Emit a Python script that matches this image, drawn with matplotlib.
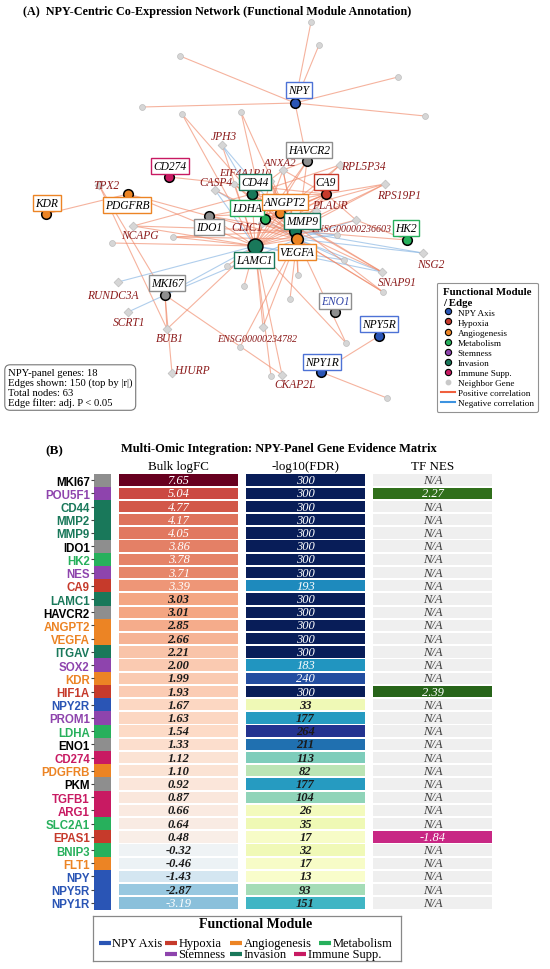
import numpy as np
import matplotlib
matplotlib.use("Agg")
import matplotlib.pyplot as plt
from matplotlib import colors as mcolors
from matplotlib.lines import Line2D

SERIF = "Liberation Serif"
SANS = "Liberation Sans"

######################### Data: evidence matrix #########################

genes = ["MKI67", "POU5F1", "CD44", "MMP2", "MMP9", "IDO1", "HK2", "NES", "CA9",
         "LAMC1", "HAVCR2", "ANGPT2", "VEGFA", "ITGAV", "SOX2", "KDR", "HIF1A",
         "NPY2R", "PROM1", "LDHA", "ENO1", "CD274", "PDGFRB", "PKM", "TGFB1",
         "ARG1", "SLC2A1", "EPAS1", "BNIP3", "FLT1", "NPY", "NPY5R", "NPY1R"]
gene_module = ["Other", "Stemness", "Invasion", "Invasion", "Invasion", "Other",
               "Metabolism", "Stemness", "Hypoxia", "Invasion", "Other",
               "Angiogenesis", "Angiogenesis", "Invasion", "Stemness",
               "Angiogenesis", "Hypoxia", "NPY Axis", "Stemness", "Metabolism",
               "Other", "Immune Supp.", "Angiogenesis", "Other", "Immune Supp.",
               "Immune Supp.", "Metabolism", "Hypoxia", "Metabolism",
               "Angiogenesis", "NPY Axis", "NPY Axis", "NPY Axis"]
logfc = [7.65, 5.04, 4.77, 4.17, 4.05, 3.86, 3.78, 3.71, 3.39, 3.03, 3.01, 2.85,
         2.66, 2.21, 2.00, 1.99, 1.93, 1.67, 1.63, 1.54, 1.33, 1.12, 1.10, 0.92,
         0.87, 0.66, 0.64, 0.48, -0.32, -0.46, -1.43, -2.87, -3.19]
neg_log_fdr = [300, 300, 300, 300, 300, 300, 300, 300, 193, 300, 300, 300, 300,
               300, 183, 240, 300, 33, 177, 264, 211, 113, 82, 177, 104, 26, 35,
               17, 32, 17, 13, 93, 151]
tf_nes = [np.nan, 2.27] + [np.nan] * 14 + [2.39] + [np.nan] * 10 + [-1.84] + [np.nan] * 5
fdr_text_white = [v == 300 or v in (193, 183, 240) for v in neg_log_fdr]

module_names = ["NPY Axis", "Hypoxia", "Angiogenesis", "Metabolism",
                "Stemness", "Invasion", "Immune Supp."]
module_colors = {"NPY Axis": "#2a55b5", "Hypoxia": "#c63a2b",
                 "Angiogenesis": "#ec8424", "Metabolism": "#27b05c",
                 "Stemness": "#8e44ad", "Invasion": "#19785a",
                 "Immune Supp.": "#c81a62", "Other": "#8e8e8e"}

######################### Data: network #########################

panel_genes = ["NPY", "HAVCR2", "CD274", "CD44", "CA9", "PDGFRB", "KDR", "LDHA",
               "ANGPT2", "IDO1", "MMP9", "VEGFA", "HK2", "LAMC1", "MKI67",
               "ENO1", "NPY5R", "NPY1R"]
panel_module = ["NPY Axis", "Other", "Immune Supp.", "Invasion", "Hypoxia",
                "Angiogenesis", "Angiogenesis", "Metabolism", "Angiogenesis",
                "Other", "Invasion", "Angiogenesis", "Metabolism", "Invasion",
                "Other", "Other", "NPY Axis", "NPY Axis"]
named_neighbors = ["JPH3", "ANXA2", "EIF4A1P10", "RPL5P34", "CASP4", "TPX2",
                   "RPS19P1", "PLAUR", "CLIC1", "ENSG00000236603", "NCAPG",
                   "NSG2", "SNAP91", "RUNDC3A", "SCRT1", "BUB1",
                   "ENSG00000234782", "HJURP", "CKAP2L"]
other_neighbors = ["g%d" % i for i in range(1, 23)]

# (gene, gene, sign of correlation)
edges = [
    ("NPY", "g1", 1), ("NPY", "g2", 1), ("NPY", "g3", 1), ("NPY", "g4", 1),
    ("NPY", "g5", 1), ("NPY", "g6", 1), ("NPY", "HAVCR2", 1),
    ("NPY5R", "NPY1R", 1), ("NPY1R", "g20", 1),
    ("KDR", "PDGFRB", 1), ("PDGFRB", "IDO1", 1), ("PDGFRB", "LAMC1", 1),
    ("TPX2", "MKI67", 1), ("TPX2", "BUB1", 1), ("CD274", "CA9", 1),
    ("NCAPG", "LAMC1", 1), ("NCAPG", "CD44", 1), ("NCAPG", "MMP9", 1),
    ("g11", "LAMC1", 1), ("g11", "VEGFA", 1), ("g11", "MMP9", 1), ("g10", "LAMC1", 1),
    ("RUNDC3A", "LAMC1", -1), ("MKI67", "LAMC1", -1), ("SCRT1", "MKI67", -1),
    ("MKI67", "VEGFA", -1),
    ("MKI67", "BUB1", 1), ("MKI67", "HJURP", 1), ("MKI67", "CKAP2L", 1),
    ("BUB1", "LAMC1", 1), ("LAMC1", "ENSG00000234782", 1), ("LAMC1", "g21", 1),
    ("LAMC1", "g13", 1), ("LAMC1", "g12", 1), ("VEGFA", "g22", 1),
    ("VEGFA", "g19", 1), ("LAMC1", "g18", 1), ("MMP9", "g14", 1),
    ("VEGFA", "g14", 1), ("HK2", "MMP9", 1), ("HK2", "ENSG00000236603", 1),
    ("NSG2", "VEGFA", -1), ("NSG2", "MMP9", -1), ("SNAP91", "VEGFA", -1),
    ("SNAP91", "LAMC1", -1), ("SNAP91", "ANGPT2", 1), ("SNAP91", "CD44", 1),
    ("g15", "VEGFA", -1), ("g15", "LAMC1", -1), ("g16", "MMP9", -1),
    ("g16", "VEGFA", -1), ("ENSG00000236603", "VEGFA", -1),
    ("ENSG00000236603", "CA9", 1), ("ENSG00000236603", "LAMC1", 1),
    ("g17", "VEGFA", 1), ("g17", "ANGPT2", 1),
    ("RPL5P34", "CD44", 1), ("RPL5P34", "ANGPT2", 1), ("RPL5P34", "LAMC1", 1),
    ("RPS19P1", "LAMC1", 1), ("RPS19P1", "MMP9", 1), ("RPS19P1", "ANGPT2", 1),
    ("RPS19P1", "CA9", 1), ("HAVCR2", "LAMC1", 1), ("HAVCR2", "VEGFA", 1),
    ("HAVCR2", "LDHA", 1), ("HAVCR2", "ANXA2", 1),
    ("JPH3", "LDHA", -1), ("JPH3", "MMP9", -1), ("JPH3", "LAMC1", 1),
    ("g7", "LAMC1", 1), ("g7", "CD44", 1), ("g8", "LDHA", 1), ("g8", "MMP9", 1),
    ("CASP4", "LAMC1", -1), ("CASP4", "VEGFA", -1), ("CASP4", "MMP9", 1),
    ("ANXA2", "LAMC1", 1), ("ANXA2", "CD44", 1), ("ANXA2", "MMP9", 1),
    ("ANXA2", "VEGFA", 1), ("ANXA2", "CA9", 1),
    ("EIF4A1P10", "LAMC1", 1), ("EIF4A1P10", "VEGFA", 1),
    ("EIF4A1P10", "ANGPT2", 1), ("EIF4A1P10", "MMP9", 1),
    ("CD44", "LAMC1", 1), ("CD44", "MMP9", 1), ("CD44", "VEGFA", 1),
    ("CD44", "ANGPT2", 1), ("CD44", "CA9", 1), ("CD44", "LDHA", 1),
    ("LDHA", "LAMC1", 1), ("LDHA", "MMP9", 1), ("LDHA", "VEGFA", 1),
    ("LDHA", "CA9", 1), ("LDHA", "ANGPT2", 1),
    ("ANGPT2", "LAMC1", 1), ("ANGPT2", "MMP9", 1), ("ANGPT2", "VEGFA", 1),
    ("ANGPT2", "CA9", 1), ("MMP9", "LAMC1", 1), ("MMP9", "VEGFA", 1),
    ("MMP9", "CA9", 1), ("VEGFA", "LAMC1", 1), ("VEGFA", "CA9", 1),
    ("LAMC1", "CA9", 1), ("CLIC1", "LAMC1", 1), ("CLIC1", "MMP9", 1),
    ("CLIC1", "VEGFA", 1), ("CLIC1", "CA9", 1), ("PLAUR", "LAMC1", 1),
    ("PLAUR", "MMP9", 1), ("PLAUR", "VEGFA", 1), ("PLAUR", "CD44", 1),
    ("PLAUR", "LDHA", 1), ("IDO1", "LAMC1", 1), ("IDO1", "VEGFA", 1),
    ("IDO1", "MMP9", 1), ("IDO1", "CA9", 1), ("IDO1", "ANGPT2", 1),
    ("g9", "LAMC1", 1), ("g9", "MMP9", 1), ("g9", "VEGFA", 1),
    ("VEGFA", "g18", 1), ("MMP9", "SNAP91", 1), ("VEGFA", "g17", 1),
    ("ENSG00000234782", "VEGFA", 1), ("CKAP2L", "LAMC1", 1),
]

stats_text = ("NPY-panel genes: 18\nEdges shown: 150 (top by |r|)\n"
              "Total nodes: 63\nEdge filter: adj. P < 0.05")

######################### Layout (pixel space of panel A) #########################

pos = {
    "NPY": (295, 104), "HAVCR2": (307, 162), "CD274": (169, 178), "CD44": (252, 195),
    "CA9": (326, 195), "PDGFRB": (128, 195), "KDR": (46, 215), "LDHA": (265, 220),
    "ANGPT2": (280, 214), "IDO1": (209, 217), "MMP9": (295, 232), "VEGFA": (297, 240),
    "HK2": (407, 241), "LAMC1": (255, 247), "MKI67": (165, 296), "ENO1": (335, 313),
    "NPY5R": (379, 337), "NPY1R": (321, 373),
    "JPH3": (222, 146), "ANXA2": (283, 171), "EIF4A1P10": (270, 182),
    "RPL5P34": (340, 166), "CASP4": (215, 191), "TPX2": (99, 186),
    "RPS19P1": (385, 185), "PLAUR": (316, 212), "CLIC1": (262, 224),
    "ENSG00000236603": (356, 221), "NCAPG": (133, 227), "NSG2": (423, 254),
    "SNAP91": (382, 273), "RUNDC3A": (118, 283), "SCRT1": (128, 313),
    "BUB1": (167, 330), "ENSG00000234782": (263, 328), "HJURP": (172, 374),
    "CKAP2L": (282, 376),
    "g1": (311, 23), "g2": (319, 46), "g3": (180, 57), "g4": (398, 78),
    "g5": (142, 108), "g6": (425, 117), "g7": (182, 115), "g8": (241, 113),
    "g9": (234, 185), "g10": (112, 244), "g11": (173, 238), "g12": (227, 267),
    "g13": (244, 287), "g14": (298, 276), "g15": (344, 261), "g16": (337, 236),
    "g17": (383, 293), "g18": (346, 344), "g19": (290, 300), "g20": (387, 399),
    "g21": (271, 377), "g22": (240, 348),
}
panel_label_off = {
    "NPY": (4, -13), "HAVCR2": (2, -11), "CD274": (1, -11), "CD44": (3, -12),
    "CA9": (0, -12), "PDGFRB": (-1, 11), "KDR": (1, -11), "LDHA": (-18, -11),
    "ANGPT2": (5, -11), "IDO1": (0, 11), "MMP9": (7, -10), "VEGFA": (0, 13),
    "HK2": (-1, -12), "LAMC1": (-1, 14), "MKI67": (2, -12), "ENO1": (0, -11),
    "NPY5R": (0, -12), "NPY1R": (1, -10),
}
neighbor_label_off = {
    "JPH3": (2, -9), "ANXA2": (-3, -8), "EIF4A1P10": (-25, -9),
    "RPL5P34": (23, 1), "CASP4": (1, -8), "TPX2": (7, 0), "RPS19P1": (14, 11),
    "PLAUR": (14, -6), "CLIC1": (-15, 4), "ENSG00000236603": (-5, 8),
    "NCAPG": (7, 9), "NSG2": (8, 11), "SNAP91": (15, 10), "RUNDC3A": (-5, 13),
    "SCRT1": (1, 10), "BUB1": (3, 9), "ENSG00000234782": (-6, 11),
    "HJURP": (20, -3), "CKAP2L": (13, 9),
}
node_size = {"LAMC1": 115, "MMP9": 70, "VEGFA": 70, "CD44": 55}

######################### Figure #########################

fig = plt.figure(figsize=(5.5, 9.7), dpi=100)
W, H = 550.0, 970.0

fig.text(23 / W, 1 - 12 / H,
         "(A)  NPY-Centric Co-Expression Network (Functional Module Annotation)",
         family=SERIF, weight="bold", fontsize=8.7, va="center", ha="left")

ax = fig.add_axes([0, 1 - 410 / H, 1, 395 / H])
ax.set_xlim(0, 550)
ax.set_ylim(410, 15)
ax.axis("off")

for a, b, sgn in edges:
    (x1, y1), (x2, y2) = pos[a], pos[b]
    ax.plot([x1, x2], [y1, y2], color="#f08a6a" if sgn > 0 else "#86b4e2",
            lw=0.8, alpha=0.65, zorder=1)

gx = [pos[g][0] for g in other_neighbors]
gy = [pos[g][1] for g in other_neighbors]
ax.scatter(gx, gy, s=18, c="#d6d6d6", edgecolors="#bdbdbd", linewidths=0.5, zorder=2)
nx = [pos[g][0] for g in named_neighbors]
ny = [pos[g][1] for g in named_neighbors]
ax.scatter(nx, ny, s=20, marker="D", c="#d6d6d6", edgecolors="#bdbdbd",
           linewidths=0.5, zorder=2)

for g, m in zip(panel_genes, panel_module):
    x, y = pos[g]
    ax.scatter([x], [y], s=node_size.get(g, 48), c=module_colors[m],
               edgecolors="black", linewidths=1.1, zorder=4)

for g in named_neighbors:
    x, y = pos[g]
    dx, dy = neighbor_label_off[g]
    fs = 7.2 if g.startswith("ENSG") else 8.3
    if g in ("EIF4A1P10", "ANXA2"):
        fs = 7.8
    ax.text(x + dx, y + dy, g, ha="center", va="center", family=SERIF,
            style="italic", fontsize=fs, color="#8c1c1c", zorder=5)

for g, m in zip(panel_genes, panel_module):
    x, y = pos[g]
    dx, dy = panel_label_off[g]
    ec = module_colors[m] if m != "NPY Axis" else "#4d72d6"
    ax.text(x + dx, y + dy, g, ha="center", va="center", family=SERIF,
            style="italic", fontsize=8.3, color="#3346a8" if g == "ENO1" else "black",
            zorder=6,
            bbox=dict(boxstyle="square,pad=0.18", fc="white", ec=ec, lw=1.0))

# network legend
handles = [Line2D([], [], ls="", marker="o", ms=4.5, mfc=module_colors[m],
                  mec="black", mew=0.8, label=m) for m in module_names]
handles.append(Line2D([], [], ls="", marker="o", ms=3.2, mfc="#c8c8c8",
                      mec="#c8c8c8", label="Neighbor Gene"))
handles.append(Line2D([], [], color="#f0603e", lw=1.5, label="Positive correlation"))
handles.append(Line2D([], [], color="#3d93e0", lw=1.5, label="Negative correlation"))
leg = fig.legend(handles=handles, loc="upper left",
                 bbox_to_anchor=(432 / W, 1 - 279 / H),
                 title="Functional Module\n/ Edge",
                 title_fontproperties={"family": SERIF, "weight": "bold", "size": 7.8},
                 prop={"family": SERIF, "size": 6.6}, labelspacing=0.18,
                 handlelength=1.5, handletextpad=0.3, borderpad=0.5,
                 frameon=True, fancybox=True, edgecolor="#777777",
                 alignment="center")
leg.get_frame().set_linewidth(0.8)

fig.text(8 / W, 1 - 369 / H, stats_text, family=SERIF, fontsize=7.7,
         va="top", ha="left", linespacing=1.08,
         bbox=dict(boxstyle="round,pad=0.3,rounding_size=0.5", fc="white",
                   ec="#777777", lw=0.8))

######################### Panel B #########################

fig.text(54 / W, 1 - 451 / H, "(B)", family=SERIF, weight="bold", fontsize=9.5,
         ha="center", va="center")
fig.text(279 / W, 1 - 449 / H,
         "Multi-Omic Integration: NPY-Panel Gene Evidence Matrix",
         family=SERIF, weight="bold", fontsize=9.0, ha="center", va="center")

n = len(genes)
yy = np.arange(n)
top_px, bot_px = 474.5, 910.5
axh = fig.add_axes([94 / W, 1 - bot_px / H, (492 - 94) / W, (bot_px - top_px) / H])
axh.set_xlim(94, 492)
axh.set_ylim(n - 0.5, -0.5)

cols = [(119, 119), (246, 119), (373, 119)]
cell_h = 0.86

axh.barh(yy, 17, left=94, height=1.0,
         color=[module_colors[m] for m in gene_module])

lfc_cmap = plt.get_cmap("RdBu_r")
lfc_norm = mcolors.Normalize(-max(logfc), max(logfc))
axh.barh(yy, cols[0][1], left=cols[0][0], height=cell_h,
         color=lfc_cmap(lfc_norm(logfc)))

fdr_cmap = plt.get_cmap("YlGnBu")
fdr_norm = mcolors.Normalize(0, 300)
axh.barh(yy, cols[1][1], left=cols[1][0], height=cell_h,
         color=fdr_cmap(fdr_norm(neg_log_fdr)))

nes_cmap = plt.get_cmap("PiYG")
nes_max = np.nanmax(np.abs(tf_nes))
nes_norm = mcolors.Normalize(-nes_max, nes_max)
nes_colors = ["#efefef" if np.isnan(v) else nes_cmap(nes_norm(v)) for v in tf_nes]
axh.barh(yy, cols[2][1], left=cols[2][0], height=cell_h, color=nes_colors)

cx = [c[0] + c[1] / 2 for c in cols]
txt = dict(family=SERIF, style="italic", fontsize=9, ha="center", va="center")
for i in range(n):
    white = abs(logfc[i]) > 3.1
    axh.text(cx[0], i, "%.2f" % logfc[i], color="white" if white else "#1a1a1a",
             weight="normal" if white else "bold", **txt)
    white = fdr_text_white[i]
    axh.text(cx[1], i, "%d" % neg_log_fdr[i], color="white" if white else "#1a1a1a",
             weight="normal" if white else "bold", **txt)
    if np.isnan(tf_nes[i]):
        axh.text(cx[2], i, "N/A", color="#3a3a3a", **txt)
    else:
        axh.text(cx[2], i, "%.2f" % tf_nes[i], color="white", **txt)

for c, h in zip(cx, ["Bulk logFC", "-log10(FDR)", "TF NES"]):
    axh.text(c, -0.62, h, family=SERIF, fontsize=9.4, ha="center", va="bottom")

axh.set_yticks(yy, genes)
axh.set_xticks([])
axh.tick_params(axis="y", length=2.5, width=0.8, pad=0.5, color="#444444")
for lab, m in zip(axh.get_yticklabels(), gene_module):
    lab.set_fontfamily(SANS)
    lab.set_fontweight("bold")
    lab.set_fontsize(8.3)
    lab.set_color("black" if m == "Other" else module_colors[m])
for s in axh.spines.values():
    s.set_visible(False)

# module legend below the matrix
axl = fig.add_axes([93 / W, 1 - 962 / H, 308 / W, 45 / H])
axl.set_xlim(93, 401)
axl.set_ylim(962, 917)
axl.set_xticks([])
axl.set_yticks([])
for s in axl.spines.values():
    s.set_color("#888888")
    s.set_linewidth(0.9)
axl.text(256, 925, "Functional Module", family=SERIF, weight="bold",
         fontsize=10, ha="center", va="center")
entry_xy = {"NPY Axis": (99, 944), "Hypoxia": (165, 944), "Angiogenesis": (230, 944),
            "Metabolism": (319, 944), "Stemness": (165, 955.5),
            "Invasion": (230, 955.5), "Immune Supp.": (294, 955.5)}
for m in module_names:
    x0, y0 = entry_xy[m]
    axl.plot([x0, x0 + 12], [y0, y0], color=module_colors[m], lw=3,
             solid_capstyle="butt")
    axl.text(x0 + 13.5, y0, m, family=SERIF, fontsize=9, ha="left", va="center")

fig.savefig("out.png", dpi=100)
